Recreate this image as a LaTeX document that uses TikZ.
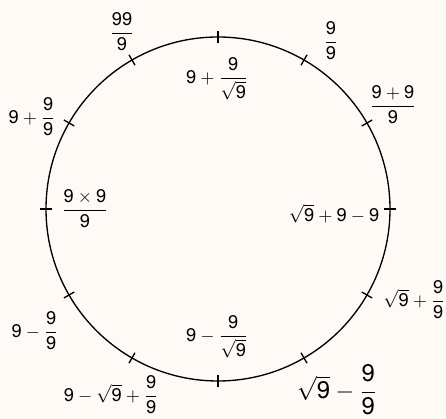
\documentclass[tikz,border=0pt]{standalone}
\usepackage{amsmath}
\usepackage{fontspec}
\setmainfont{TeX Gyre Heros}
\definecolor{paper}{RGB}{255,250,246}
\newcommand{\nn}{\text{9}}

\begin{document}
\begin{tikzpicture}[x=0.6pt,y=0.6pt,
    every node/.style={font=\fontsize{11}{13}\selectfont}]
    \fill[paper] (0,0) rectangle (446,419);
    \useasboundingbox (0,0) rectangle (446,419);

    \coordinate (C) at (218,210);
    \draw[thick] (C) circle (172);
    \foreach \a in {0,30,...,330}
        \draw[thick,shift={(C)}] (\a:166) -- (\a:178);

    \node (n12) at (217,340) {$\nn+\dfrac{\nn}{\sqrt{\nn}}$};
    \node (n1) at (331,378) {$\dfrac{\nn}{\nn}$};
    \node (n2) at (393,314) {$\dfrac{\nn+\nn}{\nn}$};
    \node (n3) at (334,205) {$\sqrt{\nn}+\nn-\nn$};
    \node[anchor=west,inner sep=0pt] (n4) at (383,119) {$\sqrt{\nn}+\dfrac{\nn}{\nn}$};
    \node[font=\Large] (n5) at (337,29) {$\sqrt{\nn}-\dfrac{\nn}{\nn}$};
    \node (n6) at (217,82) {$\nn-\dfrac{\nn}{\sqrt{\nn}}$};
    \node (n7) at (111,24) {$\nn-\sqrt{\nn}+\dfrac{\nn}{\nn}$};
    \node (n8) at (35,88) {$\nn-\dfrac{\nn}{\nn}$};
    \node (n9) at (85,210) {$\dfrac{\nn\times\nn}{\nn}$};
    \node (n10) at (32,302) {$\nn+\dfrac{\nn}{\nn}$};
    \node (n11) at (122,387) {$\dfrac{\text{99}}{\nn}$};
\end{tikzpicture}
\end{document}
